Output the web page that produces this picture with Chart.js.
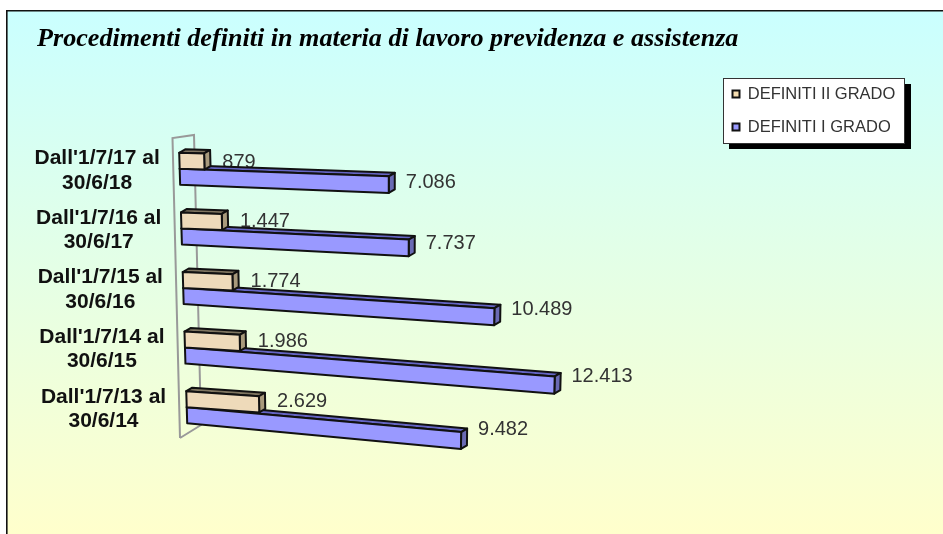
<!DOCTYPE html>
<html><head><meta charset="utf-8">
<style>html,body{margin:0;padding:0;background:#fff}#w{width:943px;height:534px}</style>
<script src="https://cdn.jsdelivr.net/npm/chart.js@4"></script>
</head><body><div id="w"><canvas id="c" width="943" height="534"></canvas></div>
<script>
const titleText = "Procedimenti definiti in materia di lavoro previdenza e assistenza";
const categories = [["Dall'1/7/17 al","30/6/18"],["Dall'1/7/16 al","30/6/17"],["Dall'1/7/15 al","30/6/16"],["Dall'1/7/14 al","30/6/15"],["Dall'1/7/13 al","30/6/14"]];
const definitiII = [879,1447,1774,1986,2629];
const definitiI = [7086,7737,10489,12413,9482];
const seriesNames = ["DEFINITI II GRADO","DEFINITI I GRADO"];
const SANS = '"Liberation Sans", Arial, sans-serif';
const fmt = v => String(v).replace(/\B(?=(\d{3})+$)/g,'.');

// Oblique 3D view: maps a point of the chart's scales to the page.
function project(chart, px, py){
  const a = chart.chartArea, val = chart.scales.x.getValueForPixel(px);
  const t = (py - a.top) / a.height;
  const dx = val * (0.0275 + 2e-7 * val) * (1.025 - 0.045 * t);
  const s = (0.032 + 0.0656 * t) * Math.min(1, 0.72 + dx * 0.001);
  return {x: 178.8 + 8.8 * t + dx, y: py - 1 + s * dx, t};
}
function face(ctx, pts, fill){
  ctx.beginPath();
  pts.forEach((p,i)=> i ? ctx.lineTo(p.x,p.y) : ctx.moveTo(p.x,p.y));
  ctx.closePath(); ctx.fillStyle = fill; ctx.fill(); ctx.stroke();
}
const shades = [
  {front:'#EEDABA', top:'#7F7560', side:'#A89A7C'},
  {front:'#9999FF', top:'#6565C4', side:'#6A6AB4'}
];
const D = {x:6, y:-3.5};
function bar3d(ctx, chart, el, sh){
  const h = el.height/2, x0 = el.base, x1 = el.x;
  const tl = project(chart,x0,el.y-h), bl = project(chart,x0,el.y+h), tr = project(chart,x1,el.y-h), br = project(chart,x1,el.y+h);
  const off = p => ({x:p.x+D.x, y:p.y+D.y});
  ctx.save(); ctx.lineWidth = 2; ctx.strokeStyle = '#111'; ctx.lineJoin='round';
  face(ctx,[tl,tr,off(tr),off(tl)],sh.top);
  face(ctx,[tr,br,off(br),off(tr)],sh.side);
  face(ctx,[tl,tr,br,bl],sh.front);
  ctx.restore();
}
const view3d = {
  id:'view3d',
  afterLayout(chart){
    const lg = chart.legend;
    lg.left = 716; lg.top = 69.25; lg.right = lg.left + lg.width; lg.bottom = lg.top + lg.height;
    chart.titleBlock.left = 37;
    const sc = chart.scales.y, items = sc.getLabelItems(chart.chartArea);
    items.forEach((it,i)=>{ it.options.translation[0] += -5.5 + i*1.6; it.options.translation[1] += 0.8; });
  },
  beforeDraw(chart){
    const ctx = chart.ctx;
    ctx.save();
    ctx.fillStyle='#fff'; ctx.fillRect(0,0,943,534);
    const g = ctx.createLinearGradient(0,10,0,534);
    g.addColorStop(0,'#CAFFFF'); g.addColorStop(1,'#FFFFCC');
    ctx.fillStyle=g; ctx.fillRect(6,10,937,524);
    ctx.strokeStyle='#111'; ctx.lineWidth=1.6;
    ctx.beginPath(); ctx.moveTo(6.8,534); ctx.lineTo(6.8,10.8); ctx.lineTo(943,10.8); ctx.stroke();
    ctx.fillStyle='#000'; ctx.fillRect(729,84,182,65);
    ctx.fillStyle='#fff'; ctx.fillRect(723.5,78.5,181,65);
    ctx.strokeStyle='#333'; ctx.lineWidth=1; ctx.strokeRect(723.5,78.5,181,65);
    ctx.restore();
  },
  beforeDatasetsDraw(chart){
    const ctx = chart.ctx;
    ctx.save();
    ctx.strokeStyle='#999'; ctx.lineWidth=2;
    ctx.beginPath();
    ctx.moveTo(180,438); ctx.lineTo(172.5,138); ctx.lineTo(194,135); ctx.lineTo(201,425); ctx.lineTo(180,438); ctx.stroke();
    ctx.restore();
    const mII = chart.getDatasetMeta(0), mI = chart.getDatasetMeta(1);
    ctx.save();
    ctx.font = '20px '+SANS; ctx.fillStyle='#333'; ctx.textBaseline='middle'; ctx.textAlign='left';
    [[mII,definitiII,18,1,-4],[mI,definitiI,17,-1,-11]].forEach(([m,vals,gap,d0,d1])=>{
      m.data.forEach((el,i)=>{
        const p = project(chart, el.x, el.y);
        ctx.fillText(fmt(vals[i]), p.x+gap, p.y+d0+d1*p.t);
      });
    });
    ctx.restore();
    mI.data.forEach((el,i)=>{
      bar3d(ctx,chart,el,shades[1]);
      bar3d(ctx,chart,mII.data[i],shades[0]);
    });
  },
  beforeDatasetDraw(){ return false; }
};
new Chart(document.getElementById('c'),{
  type:'bar',
  data:{labels:categories,datasets:[
    {label:seriesNames[0],data:definitiII,backgroundColor:'#F5DDB0',borderColor:'#111',borderWidth:2},
    {label:seriesNames[1],data:definitiI,backgroundColor:'#9999FF',borderColor:'#111',borderWidth:2}
  ]},
  options:{
    indexAxis:'y',responsive:false,animation:false,
    categoryPercentage:0.537,barPercentage:1,
    layout:{padding:{left:30,top:10,bottom:96,right:38}},
    scales:{
      x:{display:false,min:0,max:20000},
      y:{grid:{display:false,drawTicks:false},border:{display:false},
         ticks:{crossAlign:'center',padding:10,color:'#111',font:{family:SANS,size:21,weight:'bold',lineHeight:1.167}}}
    },
    plugins:{
      tooltip:{enabled:false},
      title:{display:true,text:titleText,align:'start',color:'#000',
        font:{family:'"Liberation Serif", serif',size:26.15,weight:'bold',style:'italic',lineHeight:1.2},
        padding:{top:13.2,bottom:85.42}},
      legend:{position:'right',align:'start',labels:{boxWidth:7,boxHeight:7,padding:16.5,color:'#333',font:{family:SANS,size:16.5}}}
    }
  },
  plugins:[view3d]
});
</script></body></html>
